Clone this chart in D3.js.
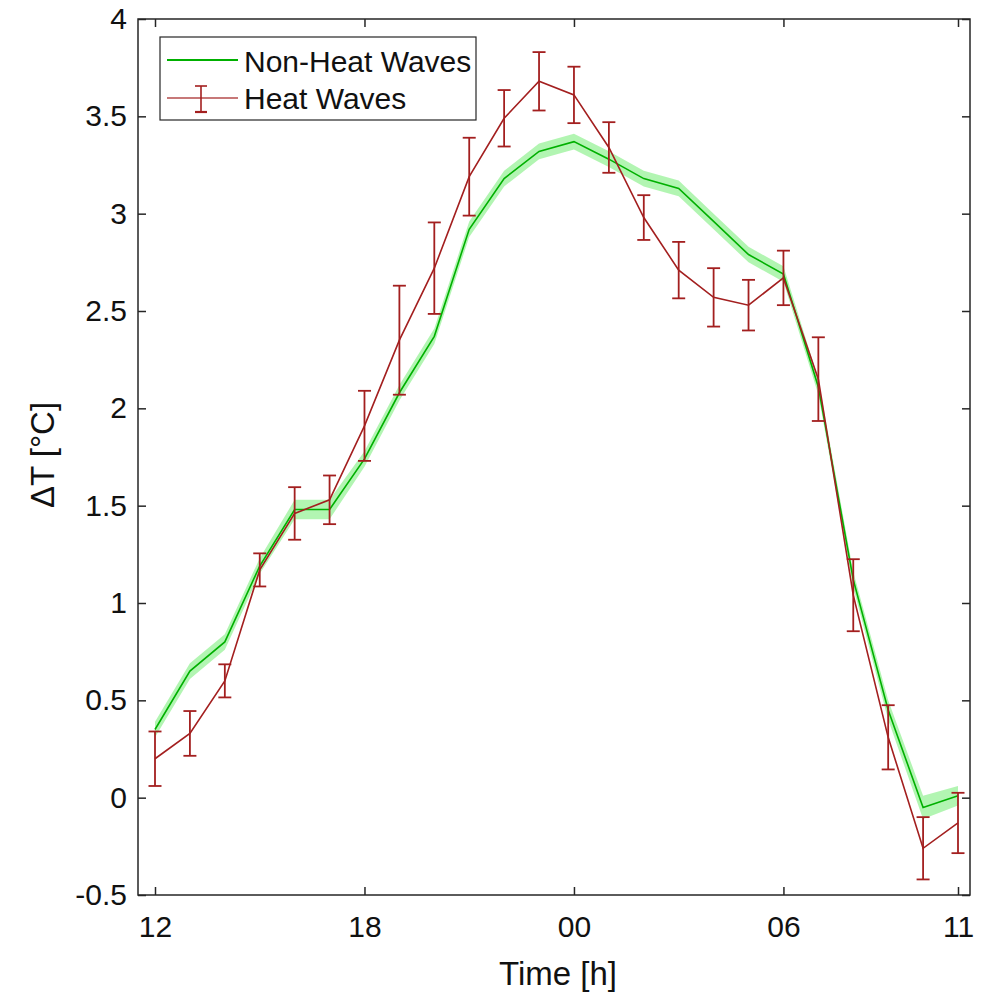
<!DOCTYPE html>
<html>
<head>
<meta charset="utf-8">
<script src="https://cdn.jsdelivr.net/npm/d3@7"></script>
<style>
  body { margin: 0; background: #fff; }
  svg text { font-family: "Liberation Sans", Arial, sans-serif; fill: #111; }
</style>
</head>
<body>
<svg id="chart" width="992" height="997"></svg>
<script>
// hours of the day, starting at noon
const hours = ["12","13","14","15","16","17","18","19","20","21","22","23",
               "00","01","02","03","04","05","06","07","08","09","10","11"];
const tickIdx = [0, 6, 12, 18, 23];
const yTicks = [-0.5, 0, 0.5, 1, 1.5, 2, 2.5, 3, 3.5, 4];

// Non-Heat Waves mean and half-width of the shaded band
const nonHeat = [0.35, 0.65, 0.80, 1.19, 1.48, 1.48, 1.74, 2.08, 2.37, 2.92, 3.18, 3.32,
                 3.37, 3.28, 3.18, 3.13, 2.96, 2.79, 2.69, 2.11, 1.12, 0.45, -0.05, 0.01];
const nonHeatErr = [0.04, 0.04, 0.04, 0.04, 0.05, 0.05, 0.04, 0.04, 0.04, 0.04, 0.04, 0.04,
                    0.04, 0.04, 0.04, 0.04, 0.04, 0.04, 0.04, 0.04, 0.04, 0.05, 0.06, 0.05];

// Heat Waves mean and error bar half-length
const heat = [0.20, 0.33, 0.60, 1.17, 1.46, 1.53, 1.91, 2.35, 2.72, 3.19, 3.49, 3.68,
              3.61, 3.34, 2.98, 2.71, 2.57, 2.53, 2.67, 2.15, 1.04, 0.31, -0.26, -0.13];
const heatErr = [0.14, 0.115, 0.085, 0.085, 0.135, 0.125, 0.18, 0.28, 0.235, 0.20, 0.145, 0.15,
                 0.145, 0.13, 0.115, 0.145, 0.15, 0.13, 0.14, 0.215, 0.185, 0.165, 0.16, 0.155];

const svg = d3.select("#chart");
const pLeft = 138, pRight = 970, pTop = 19, pBottom = 895;

const x = d3.scaleLinear().domain([0, 23]).range([155, 958]);
const y = d3.scaleLinear().domain([-0.5, 4]).range([pBottom, pTop]);

const green = "#00b000", band = "#7fee7f", red = "#a31f1f";
const axisCol = "#262626";

// shaded band
const area = d3.area()
  .x((d, i) => x(i))
  .y0((d, i) => y(d - nonHeatErr[i]))
  .y1((d, i) => y(d + nonHeatErr[i]));
svg.append("path").datum(nonHeat)
  .attr("d", area)
  .attr("fill", band).attr("fill-opacity", 0.6);

const line = d3.line().x((d, i) => x(i)).y(d => y(d));
svg.append("path").datum(nonHeat)
  .attr("d", line).attr("fill", "none")
  .attr("stroke", green).attr("stroke-width", 1.6);

// heat waves line + error bars
svg.append("path").datum(heat)
  .attr("d", line).attr("fill", "none")
  .attr("stroke", red).attr("stroke-width", 1.6);

const eb = svg.append("g").attr("stroke", red).attr("stroke-width", 1.8).attr("fill", "none");
heat.forEach((v, i) => {
  const cx = x(i), y1 = y(v + heatErr[i]), y2 = y(v - heatErr[i]);
  eb.append("line").attr("x1", cx).attr("x2", cx).attr("y1", y1).attr("y2", y2);
  eb.append("line").attr("x1", cx - 6.5).attr("x2", cx + 6.5).attr("y1", y1).attr("y2", y1);
  eb.append("line").attr("x1", cx - 6.5).attr("x2", cx + 6.5).attr("y1", y2).attr("y2", y2);
});

// axes (box style, ticks inside)
const xAxis = d3.axisBottom(x).tickValues(tickIdx).tickFormat(i => hours[i])
  .tickSizeInner(-8).tickSizeOuter(0).tickPadding(21);
const gx = svg.append("g").attr("transform", `translate(0,${pBottom})`).call(xAxis);
const yAxis = d3.axisLeft(y).tickValues(yTicks).tickFormat(d => String(d))
  .tickSizeInner(-8).tickSizeOuter(0).tickPadding(11);
const gy = svg.append("g").attr("transform", `translate(${pLeft},0)`).call(yAxis);
const gxTop = svg.append("g").attr("transform", `translate(0,${pTop})`)
  .call(d3.axisTop(x).tickValues(tickIdx).tickFormat("").tickSizeInner(-8).tickSizeOuter(0));
const gyRight = svg.append("g").attr("transform", `translate(${pRight},0)`)
  .call(d3.axisRight(y).tickValues(yTicks).tickFormat("").tickSizeInner(-8).tickSizeOuter(0));

[gx, gy, gxTop, gyRight].forEach(g => {
  g.select(".domain").remove();
  g.selectAll(".tick line").attr("stroke", axisCol).attr("stroke-width", 1.5);
  g.selectAll("text").attr("font-size", 30).attr("fill", "#111");
});

svg.append("rect")
  .attr("x", pLeft).attr("y", pTop)
  .attr("width", pRight - pLeft).attr("height", pBottom - pTop)
  .attr("fill", "none").attr("stroke", axisCol).attr("stroke-width", 1.5);

// axis titles
svg.append("text")
  .attr("x", 558).attr("y", 985)
  .attr("text-anchor", "middle").attr("font-size", 33)
  .text("Time [h]");
svg.append("text")
  .attr("transform", "translate(54,455) rotate(-90)")
  .attr("text-anchor", "middle").attr("font-size", 33)
  .text("ΔT [°C]");

// legend
const lg = svg.append("g");
lg.append("rect").attr("x", 160).attr("y", 37).attr("width", 316).attr("height", 83)
  .attr("fill", "#fff").attr("stroke", axisCol).attr("stroke-width", 1.2);
lg.append("line").attr("x1", 167).attr("x2", 238).attr("y1", 60).attr("y2", 60)
  .attr("stroke", green).attr("stroke-width", 1.8);
lg.append("text").attr("x", 244).attr("y", 72).attr("font-size", 30).text("Non-Heat Waves");
lg.append("line").attr("x1", 167).attr("x2", 238).attr("y1", 98).attr("y2", 98)
  .attr("stroke", red).attr("stroke-width", 1.4).attr("stroke-opacity", 0.8);
lg.append("line").attr("x1", 201).attr("x2", 201).attr("y1", 86).attr("y2", 112)
  .attr("stroke", red).attr("stroke-width", 1.6);
lg.append("line").attr("x1", 195).attr("x2", 207).attr("y1", 86).attr("y2", 86)
  .attr("stroke", red).attr("stroke-width", 1.6);
lg.append("line").attr("x1", 195).attr("x2", 207).attr("y1", 112).attr("y2", 112)
  .attr("stroke", red).attr("stroke-width", 2.2);
lg.append("text").attr("x", 244).attr("y", 109).attr("font-size", 30).text("Heat Waves");
</script>
</body>
</html>
